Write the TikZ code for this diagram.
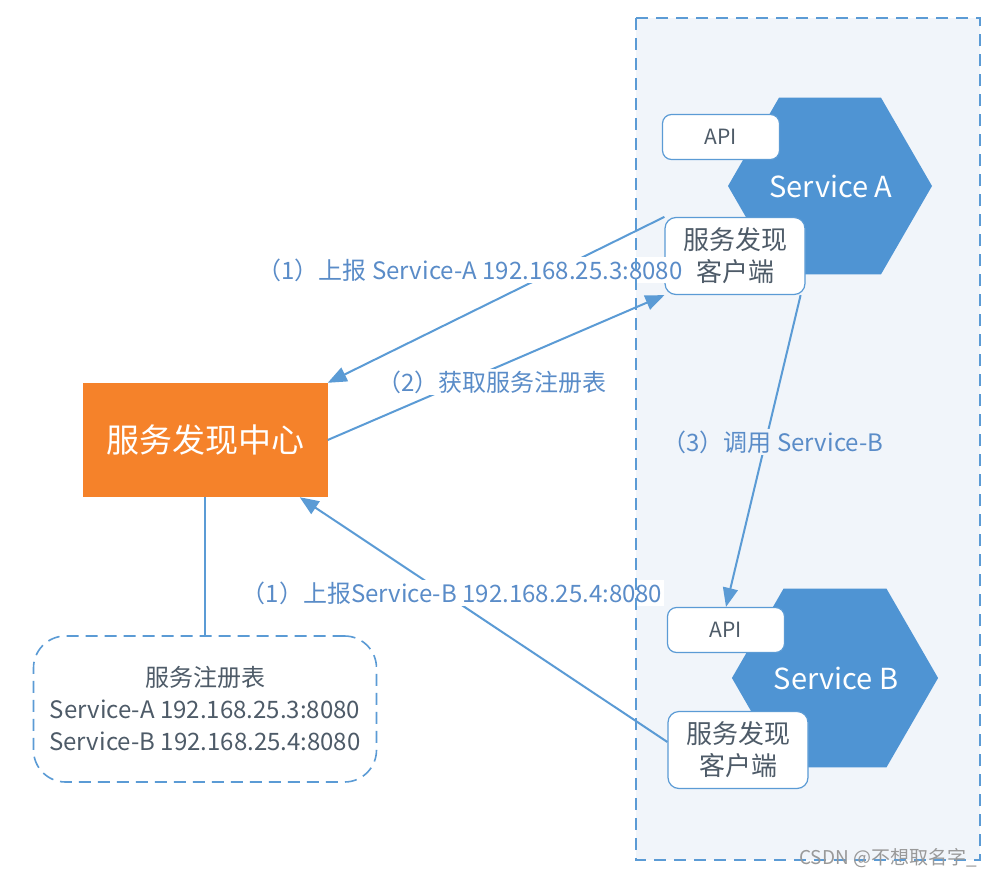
\documentclass[tikz,border=0pt]{standalone}
\usepackage{fontspec}
\setmainfont{Noto Sans CJK SC}
\usetikzlibrary{arrows.meta,shapes.geometric}
\definecolor{lineblue}{HTML}{5B9BD5}
\definecolor{hexblue}{HTML}{4F94D3}
\definecolor{centerorange}{HTML}{F5822A}
\definecolor{labelblue}{HTML}{5A8CC8}
\definecolor{boxtext}{HTML}{4E5B68}
\definecolor{zonefill}{HTML}{F1F5FA}

\begin{document}
\begin{tikzpicture}[x=1pt,y=-1pt,
  zone/.style={draw=lineblue,line width=2pt,dash pattern=on 12pt off 8pt},
  hexa/.style={regular polygon,regular polygon sides=6,minimum size=204pt,inner sep=0pt,
    fill=hexblue,text=white,font=\fontsize{29}{32}\selectfont},
  apibox/.style={draw=lineblue,line width=1.2pt,fill=white,rounded corners=9pt,
    minimum width=117pt,minimum height=45pt,text=boxtext,font=\fontsize{21}{24}\selectfont},
  clientbox/.style={draw=lineblue,line width=1.2pt,fill=white,rounded corners=11pt,
    minimum width=140pt,minimum height=77pt,align=center,text=boxtext,
    font=\fontsize{26}{32}\selectfont},
  flow/.style={draw=lineblue,line width=2pt,-{Triangle[length=19pt,width=15pt]}},
  flowlabel/.style={text=labelblue,inner sep=2pt,font=\fontsize{24}{27}\selectfont}]
\path[use as bounding box] (0,0) rectangle (999,878);

% service zone
\fill[zonefill] (636,18) rectangle (980,860);

% service A
\node[hexa] (svcA) at (830,186) {\hspace*{2pt}Service A};
\node[apibox] (apiA) at (721,137) {API};
\node[clientbox] (cliA) at (735,256) {服务发现\\客户端};

% service B
\node[hexa] (svcB) at (835,678) {\hspace*{2pt}Service B};
\node[apibox] (apiB) at (726,630) {API};
\node[clientbox] (cliB) at (738,750) {服务发现\\客户端};

% discovery center and registry
\node[fill=centerorange,text=white,minimum width=245pt,minimum height=114pt,
  font=\fontsize{33}{36}\selectfont] (center) at (205,440) {服务发现中心};
\node[draw=lineblue,line width=1.6pt,dash pattern=on 12pt off 7pt,fill=white,
  rounded corners=32pt,minimum width=343pt,minimum height=146pt,align=center,
  text=boxtext,font=\fontsize{24}{32}\selectfont] (registry) at (205,709)
  {服务注册表\\Service-A 192.168.25.3:8080\\Service-B 192.168.25.4:8080};
\draw[lineblue,line width=2pt] (center.south) -- (registry.north);

% flows
\draw[flow] (cliA.north west) -- (center.north east);
\draw[flow] (center.east) -- (cliA.south west);
\draw[flow] (cliA.south east) ++(-5,0) coordinate (cliAout) -- (apiB.north);
\draw[flow] (cliB.west) ++(0,-8) coordinate (cliBout) -- ([xshift=-28pt]center.south east);

\node[flowlabel,fill=white] (labA) at (470,270) {（1）上报 Service-A 192.168.25.3:8080};
\node[flowlabel,fill=white] (labGet) at (492,382) {（2）获取服务注册表};
\node[flowlabel,fill=zonefill] (labCall) at (773,442) {（3）调用 Service-B};
\node[flowlabel,fill=white] (labB) at (452,593) {（1）上报Service-B 192.168.25.4:8080};

% zone border on top
\draw[zone] (636,18) rectangle (980,860);

\node[text=gray!80,font=\fontsize{19}{22}\selectfont] (mark) at (888,858) {CSDN @不想取名字\_};
\end{tikzpicture}
\end{document}
